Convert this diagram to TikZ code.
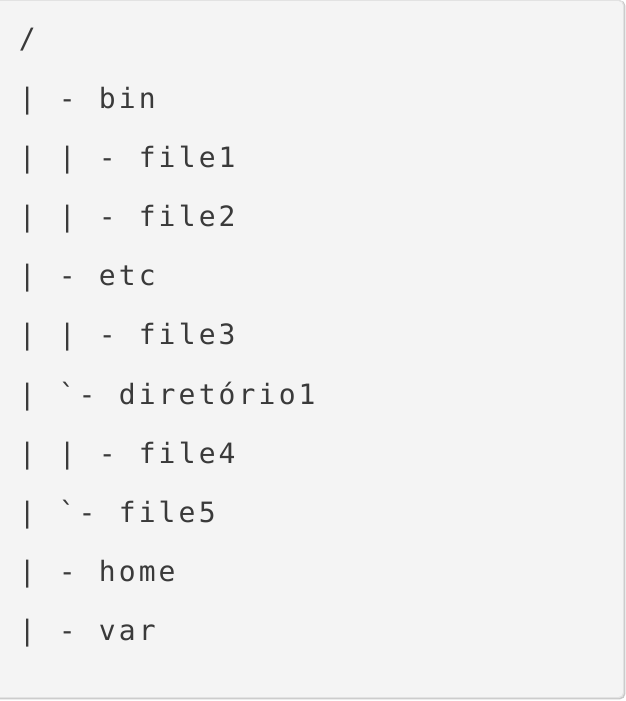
\documentclass[tikz,border=0pt]{standalone}
\usepackage{fontspec}
\setmonofont{DejaVu Sans Mono}
\definecolor{codebg}{HTML}{F4F4F4}
\definecolor{codeedge}{HTML}{E2E2E2}
\definecolor{codeshade}{HTML}{C9C9C9}
\definecolor{codeink}{HTML}{3A3A3A}
\newlength{\colw}
\setlength{\colw}{20pt}
% set every character in a fixed-width cell, like a monospaced grid
\ExplSyntaxOn
\NewDocumentCommand\gridline{m}
  { \str_map_inline:nn {#1} { \makebox[\colw][c]{##1} } }
\ExplSyntaxOff
\begin{document}
\begin{tikzpicture}[x=1pt,y=-1pt,
  codeline/.style={anchor=base west,inner sep=0pt,text=codeink,
    font=\ttfamily\fontsize{28}{34}\selectfont}]
\useasboundingbox (0,0) rectangle (626,701);
\fill[white] (0,0) rectangle (626,701);
% code panel with a light frame and a soft shade on the right and bottom
\draw[codeshade,line width=1.6pt,rounded corners=5pt] (-10,1) rectangle (624.6,698.6);
\filldraw[fill=codebg,draw=codeedge,line width=1pt,rounded corners=5pt] (-10,0.5) rectangle (623.6,697.6);
\foreach \txt [count=\i from 0] in {
  {/},
  {| - bin},
  {| | - file1},
  {| | - file2},
  {| - etc},
  {| | - file3},
  {| `- diretório1},
  {| | - file4},
  {| `- file5},
  {| - home},
  {| - var}}
  \node[codeline] (line\i) at (17,48.8+59.2*\i) {\expandafter\gridline\expandafter{\txt}};
\end{tikzpicture}
\end{document}
